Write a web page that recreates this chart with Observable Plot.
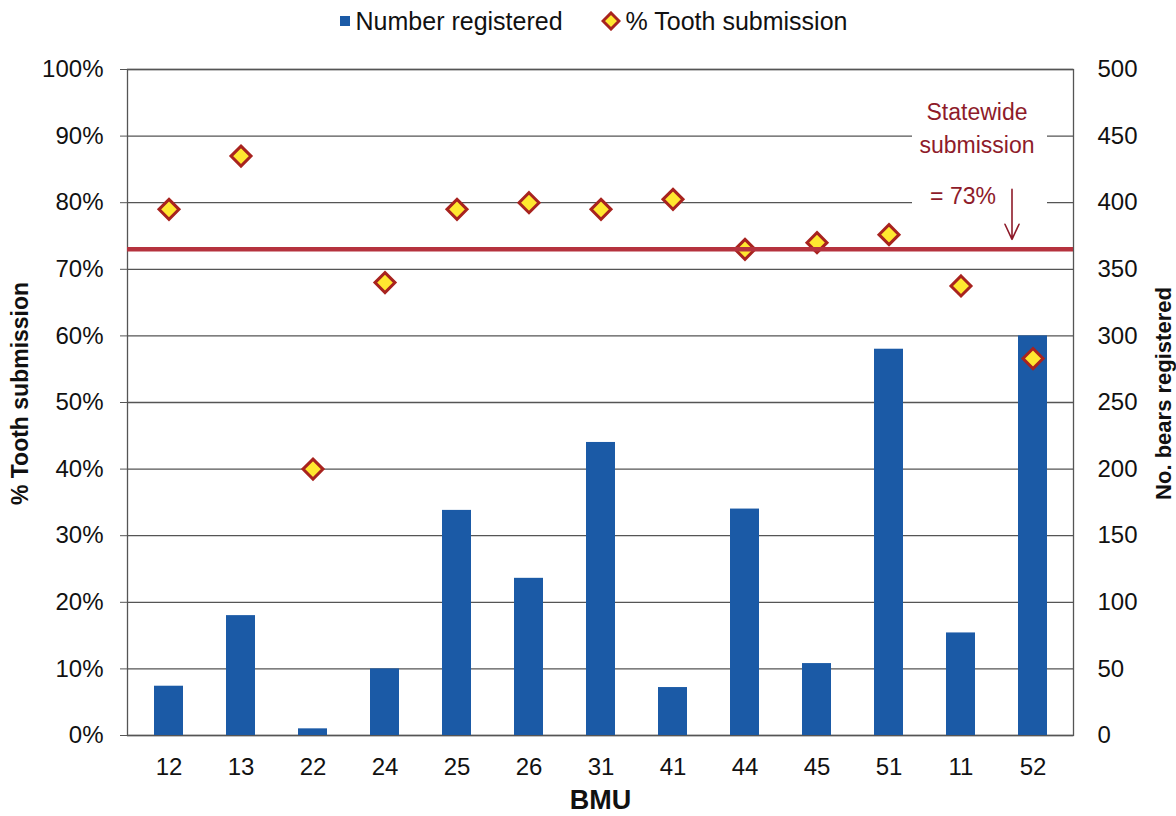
<!DOCTYPE html>
<html>
<head>
<meta charset="utf-8">
<script src="https://cdn.jsdelivr.net/npm/d3@7"></script>
<script src="https://cdn.jsdelivr.net/npm/@observablehq/plot@0.6"></script>
<style>
  html, body { margin: 0; padding: 0; background: #fff; }
  body { width: 1176px; height: 816px; overflow: hidden; font-family: "Liberation Sans", Arial, sans-serif; color: #111; }
  .legend { height: 42px; display: flex; justify-content: center; align-items: center; gap: 38px; font-size: 25px; padding-left: 10px; box-sizing: border-box; }
  .legend span { display: inline-flex; align-items: center; gap: 5px; }
</style>
</head>
<body>
<div class="legend">
  <span><svg width="12" height="12"><rect x="1" y="1" width="10" height="10" fill="#1b5aa6"></rect></svg>Number registered</span>
  <span><svg width="20" height="20"><path d="M10,2L18,10L10,18L2,10Z" fill="#ffe830" stroke="#a8231f" stroke-width="3"></path></svg>% Tooth submission</span>
</div>
<div id="chart"></div>
<script>
// Bear management units, in the order plotted
const bmu = ["12", "13", "22", "24", "25", "26", "31", "41", "44", "45", "51", "11", "52"];
// Number of bears registered per BMU (right axis)
const registered = [37, 90, 5, 50, 169, 118, 220, 36, 170, 54, 290, 77, 300];
// Share of registered bears with a tooth submitted (left axis)
const toothPct = [0.79, 0.87, 0.40, 0.68, 0.79, 0.80, 0.79, 0.805, 0.73, 0.74, 0.752, 0.675, 0.566];
// Statewide submission rate
const statewide = 0.73;
// Axis ticks
const pctTicks = d3.range(0, 11).map(i => i / 10);
const maxRegistered = 500;

const rows = bmu.map((b, i) => ({bmu: b, n: registered[i], pct: toothPct[i]}));
const noteLines = ["Statewide", "submission"];
const noteValue = `= ${Math.round(statewide * 100)}%`;

const red = "#a8231f";
const noteColor = "#8e1b2a";

const chart = Plot.plot({
  width: 1176,
  height: 774,
  marginLeft: 127,
  marginRight: 103,
  marginTop: 27,
  marginBottom: 81,
  style: {fontFamily: "Liberation Sans, Arial, sans-serif", fontSize: "24px", color: "#111", background: "#fff"},
  x: {domain: bmu, paddingInner: 0.6, paddingOuter: 0.3, label: null},
  y: {domain: [0, 1], label: null},
  marks: [
    Plot.gridY(pctTicks, {stroke: "#555", strokeOpacity: 1, strokeWidth: 1.3}),
    Plot.frame({stroke: "#555", strokeWidth: 1.3}),
    Plot.barY(rows, {x: "bmu", y: d => d.n / maxRegistered, fill: "#1b5aa6"}),
    // statewide note
    Plot.text(noteLines, {
      x: () => "11", y: (d, i) => [0.935, 0.885][i], dx: 16,
      fill: noteColor, fontSize: 23, text: d => d
    }),
    Plot.text([noteValue], {
      x: () => "11", y: () => 0.809, dx: 2,
      fill: noteColor, fontSize: 23, text: d => d
    }),
    Plot.arrow([statewide], {
      x1: () => "52", x2: () => "52", y1: () => 0.82, y2: () => 0.745, dx: -21,
      stroke: noteColor, strokeWidth: 1.6, headLength: 20, headAngle: 50
    }),
    Plot.dot(rows, {x: "bmu", y: "pct", symbol: "diamond2", r: 9, fill: "#ffe830", stroke: red, strokeWidth: 3}),
    Plot.ruleY([statewide], {stroke: "#b5323e", strokeWidth: 4.5}),
    Plot.axisY(pctTicks, {anchor: "left", tickFormat: d3.format(".0%"), tickSize: 7, tickPadding: 17, stroke: "#555", label: null}),
    Plot.axisY(pctTicks, {anchor: "right", tickFormat: d => Math.round(d * maxRegistered), tickSize: 0, tickPadding: 24, label: null}),
    Plot.axisX({tickSize: 0, tickPadding: 22, label: null}),
    Plot.text(["% Tooth submission"], {frameAnchor: "left", textAnchor: "middle", rotate: -90, dx: -107, dy: -9, fontWeight: "bold", fontSize: 23}),
    Plot.text(["No. bears registered"], {frameAnchor: "right", textAnchor: "middle", rotate: -90, dx: 90, dy: -9, fontWeight: "bold", fontSize: 22}),
    Plot.text(["BMU"], {frameAnchor: "bottom", dy: 73, fontWeight: "bold", fontSize: 27})
  ]
});

document.getElementById("chart").appendChild(chart);

// White backing box behind the statewide note, interrupting the gridlines.
// Its extent follows the chart's own scales: from the "11" band to the "52" band,
// and from just above the note down to the arrow's tip.
try {
  const svgNode = chart.tagName.toLowerCase() === "svg" ? chart : chart.querySelector("svg");
  const xs = chart.scale("x");
  const ys = chart.scale("y");
  const left = xs.apply("11") - 34;
  const right = xs.apply("52") + xs.bandwidth;
  const top = ys.apply(0.97);
  const bottom = ys.apply(0.74);
  const box = document.createElementNS("http://www.w3.org/2000/svg", "rect");
  box.setAttribute("x", left);
  box.setAttribute("y", top);
  box.setAttribute("width", right - left);
  box.setAttribute("height", bottom - top);
  box.setAttribute("fill", "#fff");
  const first = Array.from(svgNode.children).find(g => (g.textContent || "").includes(noteLines[0]));
  svgNode.insertBefore(box, first || null);
} catch (e) {
  console.error(e);
}
</script>
</body>
</html>
